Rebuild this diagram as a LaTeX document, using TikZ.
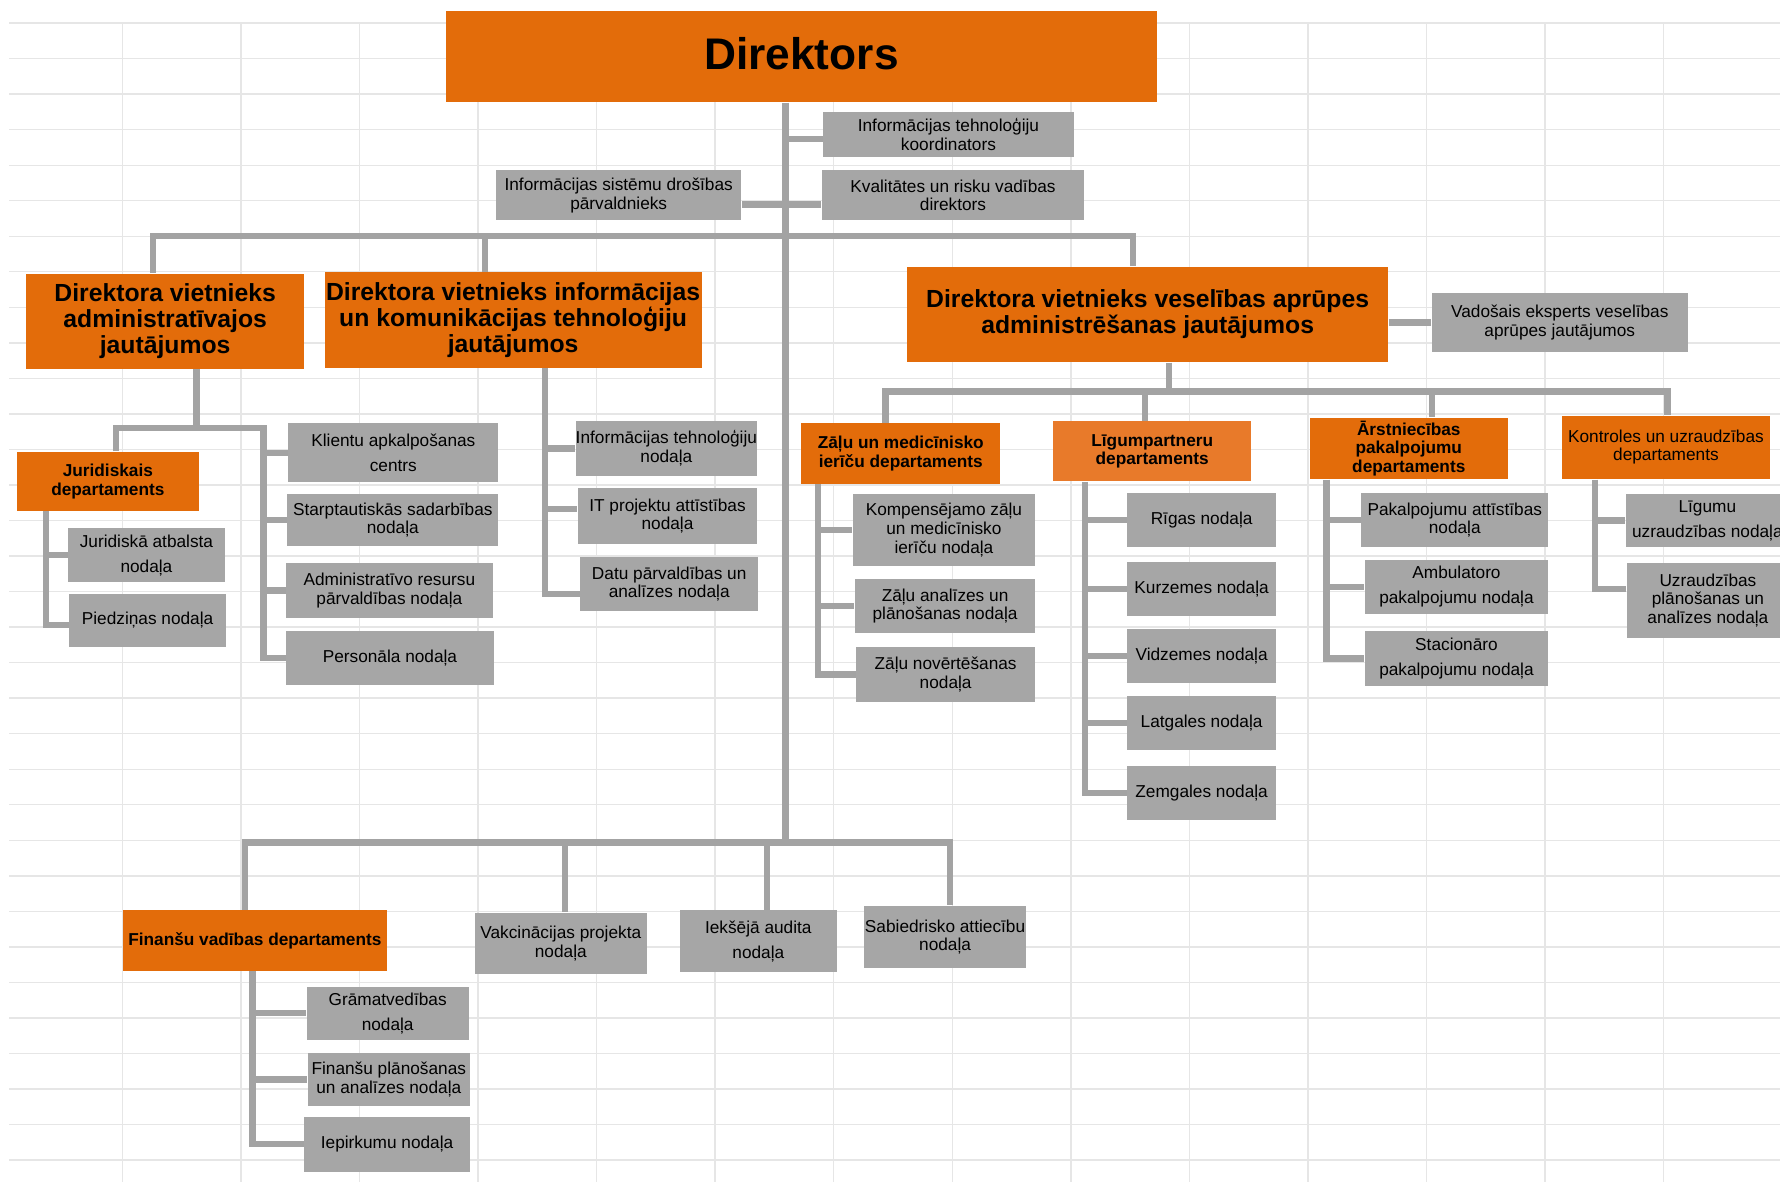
\documentclass[tikz,border=0pt]{standalone}
\usepackage{fontspec}
\setmainfont{Liberation Sans}
\definecolor{orng}{HTML}{E36C0A}
\definecolor{orngl}{HTML}{E87A2A}
\definecolor{gbox}{HTML}{A6A6A6}
\definecolor{gline}{HTML}{A3A3A3}
\definecolor{gridc}{HTML}{E6E6E6}
\newcommand\bx[7]{\node[#6, minimum width={(#4-#2)*0.5pt}, minimum height={(#5-#3)*0.5pt}] (#1) at ({(#2+#4)/2},{(#3+#5)/2}) {#7};}
\tikzset{
 box/.style={inner sep=0pt, align=center, text=black},
 gry/.style={box, fill=gbox, font=\fontsize{7.6}{8.2}\selectfont},
 gryw/.style={box, fill=gbox, font=\fontsize{7.6}{11}\selectfont},
 dvo/.style={box, fill=orng, font=\fontsize{10.9}{11.5}\selectfont\bfseries},
 smo/.style={box, fill=orng, font=\fontsize{7.6}{8.1}\selectfont\bfseries},
 smol/.style={smo, fill=orngl},
 smon/.style={box, fill=orng, font=\fontsize{7.6}{8.1}\selectfont},
 bigo/.style={box, fill=orng, font=\fontsize{19.5}{22}\selectfont\bfseries},
 conn/.style={draw=gline, line width=2.8pt},
 gridl/.style={draw=gridc, line width=0.6pt},
}
\begin{document}
\begin{tikzpicture}[x=0.5pt,y=-0.5pt]
\useasboundingbox (0,0) rectangle (1568,1041);
\clip (0,0) rectangle (1568,1041);
\fill[white] (0,0) rectangle (1568,1041);
% background grid
\foreach \k in {0,...,32} \draw[gridl] (8,{20.3+31.3*\k}) -- (1568,{20.3+31.3*\k});
\foreach \k in {0,...,13} \draw[gridl] ({107.7+104.45*\k},20) -- ({107.7+104.45*\k},1041);

% nodes
\bx{dir}{393}{10}{1019}{90}{bigo}{\raisebox{2.5pt}{Direktors}}
\bx{itk}{725}{99}{946}{138}{gry}{Informācijas tehnoloģiju\\koordinators}
\bx{kval}{724}{150}{955}{194}{gry}{Kvalitātes un risku vadības\\direktors}
\bx{isd}{437}{150}{653}{194}{gry}{Informācijas sistēmu drošības\\pārvaldnieks}
\bx{dva}{23}{241}{268}{325}{dvo}{Direktora vietnieks\\administratīvajos\\jautājumos}
\bx{dvi}{286}{240}{618}{324}{dvo}{Direktora vietnieks informācijas\\un komunikācijas tehnoloģiju\\jautājumos}
\bx{dvh}{799}{235}{1223}{319}{dvo}{Direktora vietnieks veselības aprūpes\\administrēšanas jautājumos}
\bx{vad}{1261}{258}{1487}{310}{gry}{Vadošais eksperts veselības\\aprūpes jautājumos}

\bx{zal}{706}{373}{881}{426}{smo}{Zāļu un medicīnisko\\ierīču departaments}
\bx{lig}{928}{371}{1102}{424}{smol}{Līgumpartneru\\departaments}
\bx{ars}{1154}{368}{1328}{422}{smo}{Ārstniecības\\pakalpojumu\\departaments}
\bx{kon}{1376}{366}{1559}{422}{smon}{Kontroles un uzraudzības\\departaments}

\bx{z1}{751}{435}{912}{499}{gry}{Kompensējamo zāļu\\un medicīnisko\\ierīču nodaļa}
\bx{z2}{753}{510}{912}{558}{gry}{Zāļu analīzes un\\plānošanas nodaļa}
\bx{z3}{754}{570}{912}{618}{gry}{Zāļu novērtēšanas\\nodaļa}

\bx{l1}{993}{434}{1124}{482}{gry}{Rīgas nodaļa}
\bx{l2}{993}{495}{1124}{543}{gry}{Kurzemes nodaļa}
\bx{l3}{993}{554}{1124}{602}{gry}{Vidzemes nodaļa}
\bx{l4}{993}{613}{1124}{661}{gry}{Latgales nodaļa}
\bx{l5}{993}{675}{1124}{722}{gry}{Zemgales nodaļa}

\bx{a1}{1199}{434}{1364}{482}{gry}{Pakalpojumu attīstības\\nodaļa}
\bx{a2}{1202}{493}{1364}{541}{gryw}{Ambulatoro\\pakalpojumu nodaļa}
\bx{a3}{1202}{556}{1364}{604}{gryw}{Stacionāro\\pakalpojumu nodaļa}

\bx{k1}{1432}{435}{1576}{482}{gryw}{Līgumu\\uzraudzības nodaļa}
\bx{k2}{1433}{496}{1576}{562}{gry}{Uzraudzības\\plānošanas un\\analīzes nodaļa}

\bx{jur}{15}{398}{175}{450}{smo}{Juridiskais\\departaments}
\bx{j1}{60}{465}{198}{513}{gryw}{Juridiskā atbalsta\\nodaļa}
\bx{j2}{61}{523}{199}{570}{gry}{Piedziņas nodaļa}
\bx{ad1}{254}{373}{439}{425}{gryw}{Klientu apkalpošanas\\centrs}
\bx{ad2}{253}{435}{439}{481}{gry}{Starptautiskās sadarbības\\nodaļa}
\bx{ad3}{252}{496}{434}{544}{gry}{Administratīvo resursu\\pārvaldības nodaļa}
\bx{ad4}{252}{556}{435}{603}{gry}{Personāla nodaļa}

\bx{it1}{507}{371}{667}{419}{gry}{Informācijas tehnoloģiju\\nodaļa}
\bx{it2}{509}{430}{667}{479}{gry}{IT projektu attīstības\\nodaļa}
\bx{it3}{511}{491}{668}{538}{gry}{Datu pārvaldības un\\analīzes nodaļa}

\bx{fin}{108}{802}{341}{855}{smo}{Finanšu vadības departaments}
\bx{vak}{418}{804}{570}{858}{gry}{Vakcinācijas projekta\\nodaļa}
\bx{iek}{599}{802}{737}{856}{gryw}{Iekšējā audita\\nodaļa}
\bx{sab}{761}{798}{904}{853}{gry}{Sabiedrisko attiecību\\nodaļa}
\bx{f1}{270}{869}{413}{916}{gryw}{Grāmatvedības\\nodaļa}
\bx{f2}{271}{928}{414}{974}{gry}{Finanšu plānošanas\\un analīzes nodaļa}
\bx{f3}{268}{984}{414}{1032}{gry}{Iepirkumu nodaļa}

% junction coordinates
\coordinate (tk) at (692,742);
\coordinate (tL) at (135,208);
\coordinate (tR) at (998,208);
\coordinate (tM) at (427,208);
\coordinate (hB) at (1030,345);
\coordinate (hL) at (780,345);
\coordinate (hR) at (1469,345);
\coordinate (hM1) at (1008.6,345);
\coordinate (hM2) at (1261.6,345);
\coordinate (zv) at (720.5,500);
\coordinate (lv) at (955.8,500);
\coordinate (av) at (1168.6,500);
\coordinate (kv) at (1405,500);
\coordinate (aB) at (173,377);
\coordinate (aL) at (102,377);
\coordinate (aR) at (232,377);
\coordinate (jv) at (40.5,500);
\coordinate (iv) at (480,500);
\coordinate (bL) at (216,742);
\coordinate (bR) at (837,742);
\coordinate (bM1) at (497.5,742);
\coordinate (bM2) at (675.4,742);
\coordinate (fv) at (222.5,900);

% connectors
\draw[conn] (dir.south -| tk) -- (tk);
\draw[conn] ([yshift=-2pt]itk.west) -- ([yshift=-2pt]itk.west -| tk);
\draw[conn] ([yshift=-4pt]isd.east) -- ([yshift=-4pt]kval.west);
\draw[conn] (dva.north -| tL) -- (tL) -- (tR) -- (dvh.north -| tR);
\draw[conn] (tM) -- (dvi.north -| tM);
\draw[conn] (vad.west) -- (vad.west -| dvh.east);

\draw[conn] (dvh.south -| hB) -- (hB);
\draw[conn] (zal.north -| hL) -- (hL) -- (hR) -- (kon.north -| hR);
\draw[conn] (hM1) -- (lig.north -| hM1);
\draw[conn] (hM2) -- (ars.north -| hM2);

\draw[conn] (zal.south -| zv) -- (zv |- z3.west) -- (z3.west);
\draw[conn] (zv |- z1.west) -- (z1.west);
\draw[conn] (zv |- z2.west) -- (z2.west);

\draw[conn] (lig.south -| lv) -- (lv |- l5.west) -- (l5.west);
\draw[conn] (lv |- l1.west) -- (l1.west);
\draw[conn] (lv |- l2.west) -- (l2.west);
\draw[conn] (lv |- l3.west) -- (l3.west);
\draw[conn] (lv |- l4.west) -- (l4.west);

\draw[conn] (ars.south -| av) -- (av |- a3.west) -- (a3.west);
\draw[conn] (av |- a1.west) -- (a1.west);
\draw[conn] (av |- a2.west) -- (a2.west);

\draw[conn] (kon.south -| kv) -- ([yshift=5pt]kv |- k2.west) -- ([yshift=5pt]k2.west);
\draw[conn] (kv |- k1.west) -- (k1.west);

\draw[conn] (dva.south -| aB) -- (aB);
\draw[conn] (jur.north -| aL) -- (aL) -- (aR) -- (aR |- ad4.west) -- (ad4.west);
\draw[conn] (aR |- ad1.west) -- (ad1.west);
\draw[conn] (aR |- ad2.west) -- (ad2.west);
\draw[conn] (aR |- ad3.west) -- (ad3.west);

\draw[conn] (jur.south -| jv) -- ([yshift=-2pt]jv |- j2.west) -- ([yshift=-2pt]j2.west);
\draw[conn] (jv |- j1.west) -- (j1.west);

\draw[conn] (dvi.south -| iv) -- ([yshift=-4.5pt]iv |- it3.west) -- ([yshift=-4.5pt]it3.west);
\draw[conn] (iv |- it1.west) -- (it1.west);
\draw[conn] ([yshift=3pt]iv |- it2.west) -- ([yshift=3pt]it2.west);

\draw[conn] (fin.north -| bL) -- (bL) -- (bR) -- (sab.north -| bR);
\draw[conn] (bM1) -- (vak.north -| bM1);
\draw[conn] (bM2) -- (iek.north -| bM2);

\draw[conn] (fin.south -| fv) -- (fv |- f3.west) -- (f3.west);
\draw[conn] (fv |- f1.west) -- (f1.west);
\draw[conn] (fv |- f2.west) -- (f2.west);
\end{tikzpicture}
\end{document}
